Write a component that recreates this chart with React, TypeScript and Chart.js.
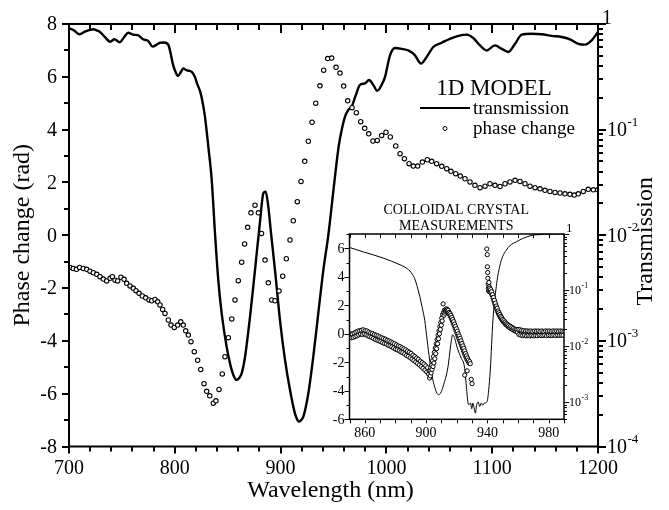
import React, { useEffect, useRef } from 'react';
import { Chart, registerables } from 'chart.js';

Chart.register(...registerables);

const SERIF = '"Liberation Serif", "Times New Roman", Times, serif';

// ---------- main panel: 1D model ----------
const mainTransWl = [700,705,710,715,720,723,726,729,734,739,743,748,752,756,761,765,770,775,779,783,786,790,794,796,798,801,803,806,808,811,813,816,819,821,824,826,828.5,831.7,834.9,838,841.1,844.3,849,853.8,856.5,858.5,861,863.2,866.4,871.1,875.8,880.5,883.7,885.9,888.4,890.9,894.7,899.4,904.2,908.9,913.6,916,917.7,919.5,921.5,926.2,930.9,935.6,940.4,945.1,951.4,955,957.7,960.9,964,967.2,971,975,979.8,983.6,987.6,991.4,995.5,998.7,1003.4,1008.1,1014.5,1020.7,1027,1032.7,1038,1044.3,1052.3,1060,1068,1075.9,1082.1,1088.5,1094.8,1102.6,1109,1115.2,1121.6,1127.9,1137.3,1146.8,1156.2,1165.7,1173.5,1181.4,1187.7,1194,1200];
const mainTransVal = [0.912,0.866,0.799,0.846,0.881,0.891,0.871,0.846,0.750,0.680,0.716,0.672,0.750,0.827,0.790,0.785,0.716,0.688,0.610,0.638,0.665,0.668,0.631,0.531,0.424,0.345,0.322,0.355,0.380,0.365,0.361,0.353,0.316,0.274,0.229,0.188,0.1326,0.0688,0.0333,0.01041,0.00376,0.00182,0.000881,0.000528,0.000447,0.000427,0.000447,0.000493,0.000708,0.00169,0.00468,0.01334,0.0250,0.0259,0.0186,0.01059,0.00468,0.001576,0.000657,0.000343,0.000205,0.000178,0.000172,0.000178,0.000192,0.000318,0.000708,0.00182,0.00468,0.0100,0.0359,0.0708,0.0989,0.1326,0.154,0.165,0.211,0.265,0.274,0.295,0.265,0.233,0.265,0.316,0.504,0.592,0.582,0.562,0.504,0.422,0.487,0.606,0.665,0.724,0.772,0.794,0.737,0.627,0.562,0.627,0.582,0.543,0.649,0.794,0.808,0.799,0.772,0.754,0.716,0.649,0.638,0.700,0.841];

const mainPhaseWl = [701,704,707,710,713.5,716.7,719.8,723,726.2,729.3,732.4,735.6,738.8,741,743.5,746,749.1,752,754.5,757.7,760.8,763.3,766.2,769.3,772.5,775.6,778.2,781.3,783.8,786,788.5,790.7,793.9,796.4,799.5,802.7,805.6,808,810.3,812.8,815.3,818.4,821.6,824.5,827.6,830.1,833,836.4,838.9,841.8,844.9,847.4,850.6,853.8,856.9,860,863.2,866,868.9,872,875.8,879,882,885.3,888.4,891.6,894.7,898.5,902,905.4,908.9,912,915.8,919.3,922.8,926.2,929.7,933.2,937.2,940.7,944.5,948.3,952.4,956.1,959.6,963.4,967.5,971.6,975.7,979.5,983.3,987.3,991.4,995.5,999.6,1003.7,1008.8,1012.9,1017,1021.4,1025.4,1029.6,1034,1038.7,1042.8,1047.5,1052.3,1057,1061,1065.5,1069.8,1074.3,1079,1083.7,1088.5,1093.2,1097.9,1102.6,1107.4,1112.1,1116.8,1121.6,1126.3,1131,1135.7,1140.5,1145.2,1149.9,1154.6,1159.4,1164.1,1168.8,1173.5,1177.6,1181.4,1186.1,1190.8,1195.6,1199.7];
const mainPhaseVal = [-1.22,-1.26,-1.29,-1.22,-1.26,-1.29,-1.36,-1.42,-1.48,-1.57,-1.66,-1.73,-1.63,-1.57,-1.70,-1.73,-1.59,-1.67,-1.82,-1.92,-2.01,-2.10,-2.20,-2.30,-2.37,-2.45,-2.48,-2.43,-2.52,-2.64,-2.81,-2.96,-3.21,-3.40,-3.49,-3.40,-3.28,-3.40,-3.62,-3.78,-4.03,-4.41,-4.73,-5.08,-5.62,-5.91,-6.08,-6.36,-6.27,-5.84,-5.25,-4.60,-3.88,-3.17,-2.45,-1.72,-1.02,-0.33,0.30,0.85,1.14,0.85,0.07,-0.94,-1.80,-2.45,-2.48,-2.11,-1.55,-0.89,-0.18,0.55,1.27,2.04,2.80,3.56,4.28,5.0,5.66,6.25,6.69,6.71,6.36,6.14,5.65,5.09,4.83,4.64,4.30,4.05,3.84,3.57,3.59,3.78,3.90,3.72,3.38,3.09,2.90,2.71,2.62,2.62,2.77,2.86,2.80,2.71,2.61,2.52,2.42,2.33,2.24,2.14,2.02,1.89,1.80,1.86,1.95,1.89,1.85,1.95,2.02,2.08,2.04,1.95,1.86,1.80,1.76,1.70,1.66,1.62,1.60,1.57,1.55,1.52,1.57,1.66,1.74,1.72,1.72];

const mainXTicks = [700, 800, 900, 1000, 1100, 1200];
const mainPhaseTicks = [-8, -6, -4, -2, 0, 2, 4, 6, 8];
const mainTransTicks = [1e-4, 1e-3, 1e-2, 1e-1, 1];

// ---------- inset: colloidal crystal measurements ----------
const insetTransWl = [850,859,872,883,886,889.4,891,892.6,894,895.9,897.5,899.1,900.7,902.3,904,905.6,907,908.2,909.5,911,914.3,916,917.3,918.5,920,921.6,923,925,926.2,927.2,928,929,929.8,930.5,931.3,932.2,933,934,935,936,937,938,939.7,940.8,941.9,943.6,945.8,948,950,952.3,955,958.9,963,969.8,975,980.7,990];
const insetTransVal = [0.575,0.479,0.372,0.282,0.257,0.219,0.191,0.158,0.120,0.0759,0.0479,0.0288,0.0126,0.00562,0.00282,0.00186,0.00145,0.00135,0.00145,0.00186,0.00427,0.0100,0.0158,0.0141,0.0100,0.00741,0.00603,0.00427,0.0020,0.00102,0.000891,0.000955,0.000759,0.000955,0.000794,0.000631,0.000891,0.001,0.000832,0.000955,0.000871,0.000955,0.001,0.00158,0.00372,0.0288,0.115,0.263,0.398,0.513,0.631,0.724,0.832,0.955,0.977,1.0,1.0];

const insetPhaseWl = [850.0,850.6,851.2,851.8,852.4,853.0,853.6,854.2,854.8,855.4,856.0,856.6,857.2,857.8,858.4,859.0,859.6,860.2,860.8,861.4,862.0,862.6,863.2,863.8,864.4,865.0,865.6,866.2,866.8,867.4,868.0,868.6,869.2,869.8,870.4,871.0,871.6,872.2,872.8,873.4,874.0,874.6,875.2,875.8,876.4,877.0,877.6,878.2,878.8,879.4,880.0,880.6,881.2,881.8,882.4,883.0,883.6,884.2,884.8,885.4,886.0,886.6,887.2,887.8,888.4,889.0,889.6,890.2,890.8,891.4,892.0,892.6,893.2,893.8,894.4,895.0,895.6,896.2,896.8,897.4,898.0,898.6,899.2,899.8,900.4,901.0,901.6,902.0,902.3,902.6,902.8,903.0,903.3,903.6,903.9,904.2,904.5,904.8,905.1,905.4,905.7,906.0,906.3,906.6,906.9,907.2,907.5,907.8,908.1,908.4,908.7,909.0,909.3,909.6,909.9,910.2,910.5,910.8,911.1,911.4,911.7,912.0,912.3,912.6,912.9,913.2,913.5,913.8,914.1,914.4,914.7,915.0,915.3,915.6,915.9,916.2,916.5,916.8,917.1,917.4,917.7,918.0,918.3,918.6,918.9,919.2,919.5,919.8,920.1,920.4,920.7,921.0,921.3,921.6,921.9,922.2,922.5,922.8,923.1,923.4,923.7,924.0,924.3,924.6,924.9,925.2,925.5,925.8,926.1,926.4,926.7,927.0,927.3,927.6,928.0,928.4,928.8,925.2,926.8,929.5,930.0,939.6,939.9,940.0,940.2,940.3,940.5,940.6,940.8,941.0,941.2,941.4,941.6,941.9,942.2,942.5,942.8,943.1,943.4,943.7,944.0,944.3,944.6,944.9,945.2,945.5,945.8,946.1,946.4,946.7,947.0,947.3,947.6,947.9,948.2,948.5,948.8,949.1,949.4,949.7,950.0,950.4,950.8,951.2,951.6,952.0,952.4,952.8,953.2,953.6,954.0,954.5,955.0,955.5,956.0,956.5,957.0,957.5,958.0,958.5,959.0,959.5,960.0,960.6,961.2,961.8,962.4,963.0,963.6,964.2,964.8,965.4,966.0,966.6,967.2,967.8,968.4,969.0,969.6,970.2,970.8,971.4,972.0,972.6,973.2,973.8,974.4,975.0,975.6,976.2,976.8,977.4,978.0,978.6,979.2,979.8,980.4,981.0,981.6,982.2,982.8,983.4,984.0,984.6,985.2,985.8,986.4,987.0,987.6,988.2,988.8,989.4,990.0];
const insetPhaseVal = [-0.25,0.0,-0.28,-0.02,-0.25,0.05,-0.2,0.12,-0.15,0.18,-0.08,0.22,-0.02,0.25,-0.05,0.28,0.0,0.22,-0.08,0.2,-0.15,0.12,-0.2,0.05,-0.25,0.02,-0.32,-0.05,-0.4,-0.1,-0.45,-0.15,-0.5,-0.22,-0.55,-0.28,-0.62,-0.33,-0.68,-0.38,-0.72,-0.45,-0.8,-0.5,-0.85,-0.57,-0.92,-0.64,-1.0,-0.7,-1.08,-0.78,-1.12,-0.85,-1.2,-0.9,-1.28,-0.98,-1.33,-1.05,-1.42,-1.12,-1.52,-1.22,-1.58,-1.3,-1.68,-1.38,-1.78,-1.5,-1.88,-1.6,-1.98,-1.7,-2.08,-1.8,-2.18,-1.92,-2.3,-2.02,-2.42,-2.12,-2.55,-2.25,-2.68,-2.38,-2.82,-2.6,
-3.1,-2.6,-2.95,-2.4,-2.75,-2.2,-2.5,-1.9,-2.3,-1.6,-2.05,-1.3,-1.75,-1.0,-1.4,-0.7,-1.05,-0.4,-0.7,-0.1,-0.35,0.2,0.0,0.5,0.3,0.8,0.6,1.1,0.9,1.35,2.1,1.5,1.3,1.65,1.45,1.7,1.55,1.75,1.6,1.7,1.55,1.65,1.45,1.5,1.35,1.42,1.22,1.3,1.08,1.15,0.92,1.0,0.75,0.85,0.58,0.68,0.4,0.52,0.22,0.35,0.05,0.18,-0.12,0.0,-0.3,-0.15,-0.48,-0.32,-0.65,-0.5,-0.82,-0.68,-1.0,-0.85,-1.18,-1.02,-1.35,-1.2,-1.5,-1.38,-1.65,-1.55,-1.8,-1.7,-1.92,-1.85,-2.05,-1.95,-2.1,-2.9,-2.6,-3.2,-3.5,
5.95,5.55,4.7,4.3,3.9,3.5,3.2,3.0,3.6,3.3,2.95,3.2,3.0,3.1,2.85,2.95,2.7,2.75,2.5,2.55,2.3,2.35,2.1,2.15,1.9,1.95,1.72,1.8,1.55,1.6,1.4,1.48,1.28,1.35,1.15,1.22,1.05,1.12,0.95,1.0,0.85,0.92,0.75,0.82,0.65,0.72,0.58,0.65,0.5,0.58,0.42,0.52,0.35,0.45,0.3,0.38,0.22,0.32,0.18,0.28,0.12,
0.3,-0.05,0.28,-0.1,0.25,-0.12,0.22,-0.1,0.2,-0.15,0.2,-0.12,0.18,-0.15,0.2,-0.12,0.16,-0.15,0.2,-0.12,0.18,-0.14,0.2,-0.1,0.17,-0.13,0.2,-0.12,0.16,-0.1,0.2,-0.14,0.18,-0.1,0.2,-0.12,0.17,-0.12,0.2,-0.1,0.18,-0.13,0.2,-0.1,0.18,-0.12,0.2,-0.1,0.18,-0.1,0.15];

const insetXTicks = [860, 900, 940, 980];
const insetPhaseTicks = [-6, -4, -2, 0, 2, 4, 6];
const insetTransTicks = [1e-3, 1e-2, 1e-1, 1];

const toPoints = (xs: number[], ys: number[]) => xs.map((x, i) => ({ x, y: ys[i] }));

function logExp(v: number) {
  return Math.round(Math.log10(v));
}

function drawPow(ctx: CanvasRenderingContext2D, v: number, x: number, y: number, base: number, sup: number) {
  ctx.textAlign = 'left';
  ctx.textBaseline = 'middle';
  const e = logExp(v);
  ctx.font = `${base}px ${SERIF}`;
  if (e === 0) {
    ctx.fillText('1', x, y);
    return;
  }
  ctx.fillText('10', x, y);
  const w = ctx.measureText('10').width;
  ctx.font = `${sup}px ${SERIF}`;
  ctx.fillText(String(e), x + w + 0.5, y - base * 0.42);
}

const mainAxesPlugin = {
  id: 'mainAxes',
  afterDatasetsDraw(chart: any) {
    const ctx: CanvasRenderingContext2D = chart.ctx;
    const { left, right, top, bottom } = chart.chartArea;
    const xs = chart.scales.x;
    const yp = chart.scales.yP;
    const yt = chart.scales.yT;
    ctx.save();
    ctx.strokeStyle = '#000';
    ctx.fillStyle = '#000';
    ctx.lineWidth = 2;
    ctx.lineCap = 'butt';
    ctx.strokeRect(left, top, right - left, bottom - top);

    ctx.beginPath();
    for (let v = xs.min; v <= xs.max + 0.001; v += 20) {
      const px = Math.round(xs.getPixelForValue(v));
      const major = Math.abs(v % 100) < 0.001;
      ctx.moveTo(px, bottom);
      ctx.lineTo(px, bottom + (major ? 7 : 5));
      ctx.moveTo(px, top);
      ctx.lineTo(px, top + (major ? 9 : 6));
    }
    for (let v = yp.min; v <= yp.max + 0.001; v += 1) {
      const py = Math.round(yp.getPixelForValue(v));
      const major = Math.abs(v % 2) < 0.001;
      ctx.moveTo(left - (major ? 7 : 5), py);
      ctx.lineTo(left, py);
    }
    for (let e = -4; e <= 0; e++) {
      for (let k = 1; k <= 9; k++) {
        const v = k * Math.pow(10, e);
        if (v > 1.0001) break;
        const py = Math.round(yt.getPixelForValue(v));
        ctx.moveTo(right, py);
        ctx.lineTo(right + (k === 1 ? 8 : 5), py);
      }
    }
    ctx.stroke();

    ctx.font = `20px ${SERIF}`;
    ctx.textAlign = 'center';
    ctx.textBaseline = 'middle';
    mainXTicks.forEach((v) => ctx.fillText(String(v), xs.getPixelForValue(v), bottom + 22));
    ctx.textAlign = 'right';
    mainPhaseTicks.forEach((v) => ctx.fillText(String(v), left - 12, yp.getPixelForValue(v) + 1));
    mainTransTicks.forEach((v) => {
      const py = yt.getPixelForValue(v);
      if (logExp(v) === 0) drawPow(ctx, v, right + 4, py - 5, 20, 13);
      else drawPow(ctx, v, right + 9, py + 1, 20, 13);
    });

    ctx.font = `24px ${SERIF}`;
    ctx.textAlign = 'center';
    ctx.textBaseline = 'middle';
    ctx.fillText('Wavelength (nm)', (left + right) / 2 - 3, bottom + 44);
    ctx.save();
    ctx.translate(23, (top + bottom) / 2);
    ctx.rotate(-Math.PI / 2);
    ctx.fillText('Phase change (rad)', 0, 0);
    ctx.restore();
    ctx.save();
    ctx.translate(646, (top + bottom) / 2 + 6);
    ctx.rotate(-Math.PI / 2);
    ctx.fillText('Transmission', 0, 0);
    ctx.restore();

    ctx.font = `23px ${SERIF}`;
    ctx.textAlign = 'center';
    ctx.textBaseline = 'alphabetic';
    ctx.fillText('1D MODEL', 494, 95);
    ctx.lineWidth = 2;
    ctx.beginPath();
    ctx.moveTo(420, 108);
    ctx.lineTo(470, 108);
    ctx.stroke();
    ctx.font = `19px ${SERIF}`;
    ctx.textAlign = 'left';
    ctx.fillText('transmission', 473, 114);
    ctx.fillText('phase change', 473, 134);
    ctx.lineWidth = 1;
    ctx.fillStyle = '#fff';
    ctx.beginPath();
    ctx.arc(445, 128.5, 2, 0, Math.PI * 2);
    ctx.fill();
    ctx.stroke();
    ctx.restore();
  },
};

const insetAxesPlugin = {
  id: 'insetAxes',
  afterDatasetsDraw(chart: any) {
    const ctx: CanvasRenderingContext2D = chart.ctx;
    const { left, right, top, bottom } = chart.chartArea;
    const xs = chart.scales.x;
    const yp = chart.scales.yP;
    const yt = chart.scales.yT;
    ctx.save();
    ctx.strokeStyle = '#000';
    ctx.fillStyle = '#000';
    ctx.lineWidth = 1.5;
    ctx.strokeRect(left, top, right - left, bottom - top);
    ctx.lineWidth = 1;
    ctx.beginPath();
    for (let v = 850; v <= 990.001; v += 10) {
      const px = Math.round(xs.getPixelForValue(v)) + 0.5;
      ctx.moveTo(px, bottom);
      ctx.lineTo(px, bottom + 4);
      ctx.moveTo(px, top);
      ctx.lineTo(px, top + 4);
    }
    for (let v = -6; v <= 7; v += 1) {
      const py = Math.round(yp.getPixelForValue(v)) + 0.5;
      const major = Math.abs(v % 2) < 0.001;
      ctx.moveTo(left - (major ? 5 : 3), py);
      ctx.lineTo(left, py);
    }
    for (let e = -4; e <= 0; e++) {
      for (let k = 1; k <= 9; k++) {
        const v = k * Math.pow(10, e);
        if (v > 1.0001 || v < yt.min) continue;
        const py = Math.round(yt.getPixelForValue(v)) + 0.5;
        ctx.moveTo(right, py);
        ctx.lineTo(right + (k === 1 ? 5 : 3), py);
      }
    }
    ctx.stroke();

    ctx.font = `14px ${SERIF}`;
    ctx.textAlign = 'center';
    ctx.textBaseline = 'middle';
    insetXTicks.forEach((v) => ctx.fillText(String(v), xs.getPixelForValue(v), bottom + 14));
    ctx.textAlign = 'right';
    insetPhaseTicks.forEach((v) => ctx.fillText(String(v), left - 5, yp.getPixelForValue(v) + 1));
    insetTransTicks.forEach((v) => {
      const py = yt.getPixelForValue(v);
      if (logExp(v) === 0) drawPow(ctx, v, right + 2, py - 5, 13, 9);
      else drawPow(ctx, v, right + 5, py + 1, 12, 8);
    });

    ctx.font = `14px ${SERIF}`;
    ctx.textAlign = 'center';
    ctx.textBaseline = 'middle';
    const cx = (left + right) / 2 - 0.5;
    ctx.fillText('COLLOIDAL CRYSTAL', cx, top - 24);
    ctx.fillText('MEASUREMENTS', cx, top - 8);
    ctx.restore();
  },
};

export default function App() {
  const mainRef = useRef<HTMLCanvasElement>(null);
  const insetRef = useRef<HTMLCanvasElement>(null);

  useEffect(() => {
    if (!mainRef.current || !insetRef.current) return;
    const main = new Chart(mainRef.current, {
      type: 'line',
      data: {
        datasets: [
          {
            label: 'phase change',
            data: toPoints(mainPhaseWl, mainPhaseVal),
            yAxisID: 'yP',
            showLine: false,
            pointRadius: 2.2,
            pointBorderWidth: 1.1,
            pointBorderColor: '#000',
            pointBackgroundColor: '#fff',
            borderColor: '#000',
            backgroundColor: '#fff',
          },
          {
            label: 'transmission',
            data: toPoints(mainTransWl, mainTransVal),
            yAxisID: 'yT',
            borderColor: '#000',
            borderWidth: 2.4,
            pointRadius: 0,
            cubicInterpolationMode: 'monotone',
            fill: false,
          },
        ],
      },
      options: {
        animation: false,
        responsive: false,
        devicePixelRatio: 1,
        layout: { padding: { left: 69, top: 24, right: 71, bottom: 63.5 } },
        plugins: { legend: { display: false }, tooltip: { enabled: false } },
        scales: {
          x: { type: 'linear', min: 700, max: 1200, display: false },
          yP: { type: 'linear', min: -8, max: 8, display: false },
          yT: { type: 'logarithmic', min: 1e-4, max: 1, display: false },
        },
      },
      plugins: [mainAxesPlugin],
    } as any);

    const inset = new Chart(insetRef.current, {
      type: 'line',
      data: {
        datasets: [
          {
            label: 'measured phase',
            data: toPoints(insetPhaseWl, insetPhaseVal),
            yAxisID: 'yP',
            showLine: false,
            pointRadius: 2.1,
            pointBorderWidth: 1,
            pointBorderColor: '#000',
            pointBackgroundColor: '#fff',
            borderColor: '#000',
            backgroundColor: '#fff',
          },
          {
            label: 'measured transmission',
            data: toPoints(insetTransWl, insetTransVal),
            yAxisID: 'yT',
            borderColor: '#000',
            borderWidth: 1,
            pointRadius: 0,
            cubicInterpolationMode: 'monotone',
            fill: false,
          },
        ],
      },
      options: {
        animation: false,
        responsive: false,
        devicePixelRatio: 1,
        layout: { padding: { left: 59.5, top: 44, right: 105, bottom: 30.7 } },
        plugins: { legend: { display: false }, tooltip: { enabled: false } },
        scales: {
          x: { type: 'linear', min: 850, max: 990, display: false },
          yP: { type: 'linear', min: -6, max: 7, display: false },
          yT: { type: 'logarithmic', min: 0.00049, max: 1, display: false },
        },
      },
      plugins: [insetAxesPlugin],
    } as any);

    return () => {
      main.destroy();
      inset.destroy();
    };
  }, []);

  return (
    <div style={{ position: 'absolute', left: 0, top: 0, width: 669, height: 510, background: '#fff' }}>
      <canvas ref={mainRef} width={669} height={510} style={{ position: 'absolute', left: 0, top: 0 }} />
      <canvas ref={insetRef} width={379} height={260} style={{ position: 'absolute', left: 290, top: 190 }} />
    </div>
  );
}
